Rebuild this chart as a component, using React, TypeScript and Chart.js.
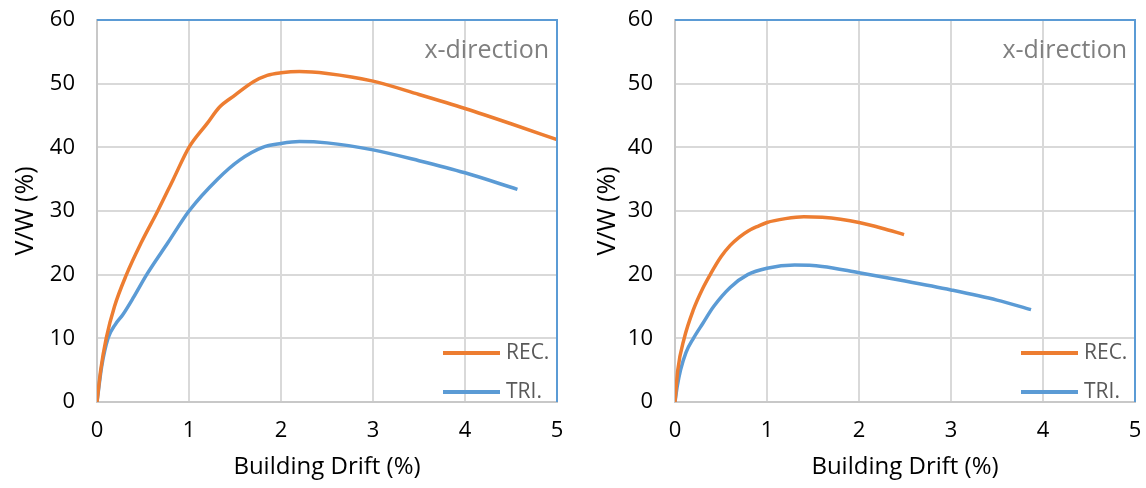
import React, { useEffect, useRef } from "react";
import { Chart, registerables } from "chart.js";

Chart.register(...registerables);

// ---- data ----
const seriesLabels = ["REC.", "TRI."];
const seriesColors = ["#ED7D31", "#5B9BD5"];
const panelNote = "x-direction";
const xTitle = "Building Drift (%)";
const yTitle = "V/W (%)";
const xRange = [0, 5];
const yRange = [0, 60];
const xStep = 1;
const yStep = 10;

// left panel
const recLeftX = [0, 0.04, 0.1, 0.19, 0.32, 0.48, 0.66, 0.83, 1.0, 1.2, 1.33, 1.5, 1.7, 1.85, 2.0, 2.2, 2.5, 3.0, 3.5, 4.0, 4.5, 5.0];
const recLeftY = [0, 5, 10, 15, 20, 25, 30, 35, 40, 43.8, 46.3, 48.2, 50.3, 51.3, 51.7, 51.9, 51.6, 50.4, 48.3, 46.1, 43.7, 41.2];
const triLeftX = [0, 0.05, 0.12, 0.2, 0.28, 0.4, 0.54, 0.77, 1.0, 1.31, 1.55, 1.8, 2.0, 2.2, 2.5, 3.0, 3.5, 4.0, 4.57];
const triLeftY = [0, 5.5, 10, 12.2, 13.7, 16.5, 20, 25, 30, 35, 38, 40, 40.6, 40.9, 40.7, 39.6, 37.9, 36, 33.4];

// right panel
const recRightX = [0, 0.03, 0.1, 0.2, 0.3, 0.39, 0.5, 0.6, 0.7, 0.8, 0.9, 1.0, 1.2, 1.4, 1.6, 1.8, 2.0, 2.25, 2.49];
const recRightY = [0, 5, 10, 14.5, 17.8, 20.2, 22.8, 24.6, 25.9, 26.9, 27.6, 28.2, 28.8, 29.1, 29.0, 28.7, 28.2, 27.3, 26.3];
const triRightX = [0, 0.025, 0.06, 0.12, 0.2, 0.3, 0.42, 0.6, 0.79, 1.0, 1.3, 1.6, 2.0, 2.5, 3.0, 3.5, 3.87];
const triRightY = [0, 2.5, 5, 7.8, 10, 12.3, 15, 18, 20, 21, 21.5, 21.3, 20.3, 19, 17.6, 16, 14.5];

const FONT = "'Open Sans', 'DejaVu Sans', sans-serif";

function toPoints(xs: number[], ys: number[]) {
  return xs.map((x, i) => ({ x, y: ys[i] }));
}

const decorPlugin = {
  id: "decor",
  afterDatasetsDraw(chart: any) {
    const { ctx, chartArea } = chart;
    const { left, right, top, bottom } = chartArea;
    ctx.save();
    // blue top/right border
    ctx.strokeStyle = "#5B9BD5";
    ctx.lineWidth = 2;
    ctx.beginPath();
    ctx.moveTo(left, top);
    ctx.lineTo(right, top);
    ctx.lineTo(right, bottom);
    ctx.stroke();
    // note text
    ctx.fillStyle = "#7F7F7F";
    ctx.font = `25px ${FONT}`;
    ctx.textAlign = "right";
    ctx.textBaseline = "middle";
    ctx.fillText(panelNote, right - 8, top + 31);
    // legend
    ctx.font = `21px ${FONT}`;
    ctx.textAlign = "left";
    chart.data.datasets.forEach((ds: any, i: number) => {
      const y = bottom - 49 + i * 39;
      ctx.strokeStyle = ds.borderColor;
      ctx.lineWidth = 4;
      ctx.beginPath();
      ctx.moveTo(right - 114, y);
      ctx.lineTo(right - 57, y);
      ctx.stroke();
      ctx.fillStyle = "#595959";
      ctx.fillText(ds.label, right - 51, y);
    });
    ctx.restore();
  },
};

type PanelProps = {
  rec: { x: number; y: number }[];
  tri: { x: number; y: number }[];
  padRight: number;
  yAxisWidth: number;
  yTitlePad: number;
  left: number;
};

function Panel({ rec, tri, padRight, yAxisWidth, yTitlePad, left }: PanelProps) {
  const ref = useRef<HTMLCanvasElement>(null);
  useEffect(() => {
    if (!ref.current) return;
    const mk = (label: string, data: any, color: string) => ({
      label,
      data,
      borderColor: color,
      backgroundColor: color,
      borderWidth: 3.5,
      pointRadius: 0,
      cubicInterpolationMode: "monotone",
      fill: false,
    });
    const chart = new Chart(ref.current, {
      type: "line",
      data: {
        datasets: [
          mk(seriesLabels[0], rec, seriesColors[0]),
          mk(seriesLabels[1], tri, seriesColors[1]),
        ],
      },
      options: {
        responsive: false,
        animation: false,
        events: [],
        layout: { padding: { left: 0, top: 20, right: padRight, bottom: 0 } },
        plugins: { legend: { display: false }, tooltip: { enabled: false } },
        scales: {
          x: {
            type: "linear",
            min: xRange[0],
            max: xRange[1],
            ticks: {
              stepSize: xStep,
              padding: 16,
              color: "#000",
              font: { family: FONT, size: 22 },
              maxRotation: 0,
            },
            grid: { color: "#D9D9D9", lineWidth: 2, drawTicks: false },
            border: { color: "#C8C8C8", width: 2 },
            title: {
              display: true,
              text: xTitle,
              color: "#000",
              font: { family: FONT, size: 24 },
              padding: { top: 0, bottom: 6 },
            },
            afterFit(scale: any) {
              scale.height = 86;
              scale.paddingLeft = 0;
              scale.paddingRight = 0;
            },
          },
          y: {
            type: "linear",
            min: yRange[0],
            max: yRange[1],
            ticks: {
              stepSize: yStep,
              padding: 22,
              color: "#000",
              font: { family: FONT, size: 22 },
            },
            grid: { color: "#D9D9D9", lineWidth: 2, drawTicks: false },
            border: { color: "#C8C8C8", width: 2 },
            title: {
              display: true,
              text: yTitle,
              color: "#000",
              font: { family: FONT, size: 25 },
              padding: { top: yTitlePad, bottom: 0 },
            },
            afterFit(scale: any) {
              scale.width = yAxisWidth;
              scale.paddingTop = 0;
              scale.paddingBottom = 0;
            },
          },
        },
      },
      plugins: [decorPlugin],
    } as any);
    return () => chart.destroy();
  }, []);
  return (
    <canvas
      ref={ref}
      width={573}
      height={488}
      style={{ position: "absolute", left, top: 0, width: 573, height: 488 }}
    />
  );
}

export default function App() {
  return (
    <div style={{ position: "absolute", left: 0, top: 0, width: 1146, height: 488, background: "#fff" }}>
      <Panel
        rec={toPoints(recLeftX, recLeftY)}
        tri={toPoints(triLeftX, triLeftY)}
        padRight={16}
        yAxisWidth={97}
        yTitlePad={11}
        left={0}
      />
      <Panel
        rec={toPoints(recRightX, recRightY)}
        tri={toPoints(triRightX, triRightY)}
        padRight={11}
        yAxisWidth={102}
        yTitlePad={20}
        left={573}
      />
    </div>
  );
}
